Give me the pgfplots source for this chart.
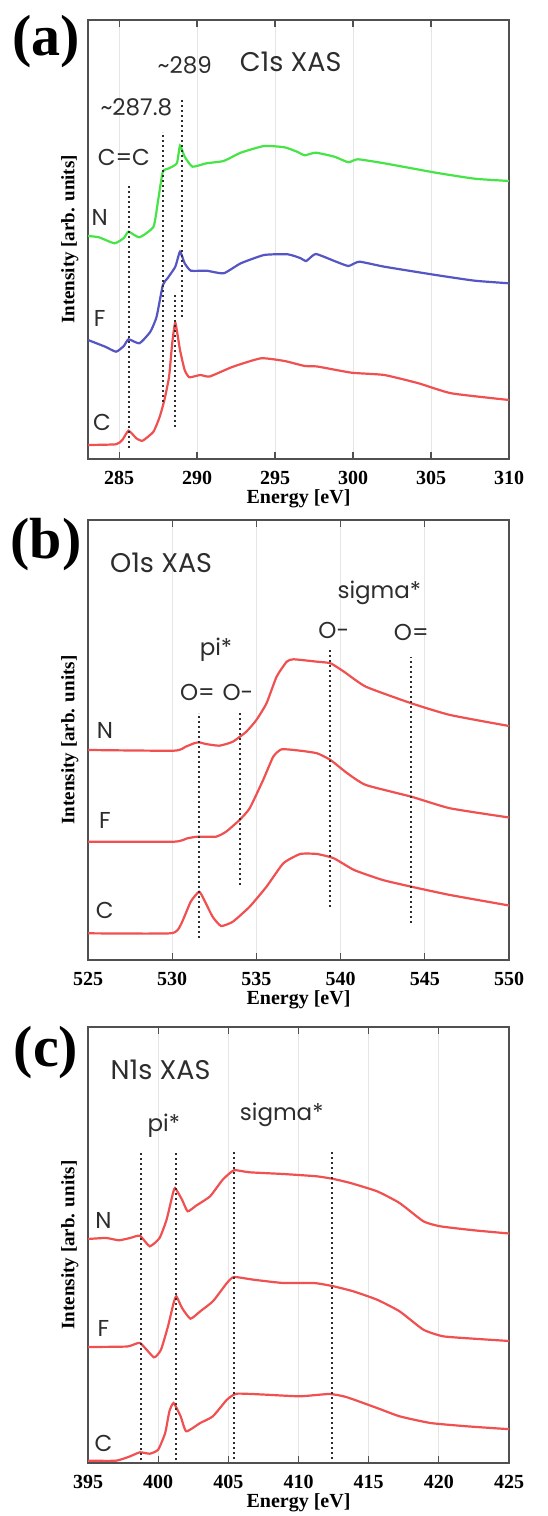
\documentclass[border=0pt]{standalone}
\usepackage{fontspec}
\setmainfont{Liberation Serif}
\newfontfamily\annfont{Poppins}
\usepackage{pgfplots}
\pgfplotsset{compat=1.18}
\definecolor{cgreen}{RGB}{70,228,70}
\definecolor{cblue}{RGB}{85,85,195}
\definecolor{cred}{RGB}{240,80,80}
\definecolor{frame}{RGB}{80,80,80}
\definecolor{anncol}{RGB}{45,45,45}
\tikzset{
  ann/.style={font=\annfont\fontsize{23}{23}\selectfont, text=anncol, anchor=center, inner sep=0pt},
  ttl/.style={font=\annfont\fontsize{27}{27}\selectfont, text=anncol, anchor=center, inner sep=0pt},
  dots/.style={anncol, line width=2pt, dash pattern=on 1.8pt off 3.2pt},
}
\pgfplotsset{
  panel/.style={
    scale only axis,
    width=421pt,
    anchor=south west,
    axis line style={frame, line width=1.6pt},
    ytick=\empty,
    tick align=inside,
    xtick pos=both,
    major tick length=7pt,
    tick style={frame, line width=1.3pt},
    xmajorgrids,
    grid style={black!10, line width=0.9pt},
    /pgf/number format/assume math mode=true,
    xticklabel style={font=\fontsize{20}{20}\selectfont\bfseries, anchor=center, yshift=-19pt},
    xlabel={Energy [eV]},
    xlabel style={font=\fontsize{20}{20}\selectfont\bfseries, at={(rel axis cs:0.5,0)}, anchor=center, yshift=-40pt},
    ylabel={Intensity [arb. units]},
    ylabel style={font=\fontsize{19}{19}\selectfont\bfseries, at={(axis description cs:-0.043,0.5)}, anchor=center},
    clip=true,
  },
  spec/.style={line width=2.2pt, smooth, tension=0.3},
}
\begin{document}
\begin{tikzpicture}
\useasboundingbox (0,0) rectangle (547pt,1516pt);
% ---------- (a) ----------
\begin{axis}[panel, at={(88pt,1057pt)}, height=439pt,
  xmin=283, xmax=310, ymin=0, ymax=439, xtick={285,290,...,310}]
\addplot[cgreen, spec] coordinates {(283,223) (283.7,221.7) (284.7,215.7) (285.3,221) (285.6,227.3) (286.3,221.7) (287.2,232.3) (287.5,259) (287.8,287.3) (288.2,290.7) (288.7,295.7) (288.9,313.3) (289.2,302.3) (289.7,292.3) (290.6,295.7) (291.7,298) (292.8,306.3) (294.3,313) (295.6,311.7) (296.4,307.3) (296.9,303.7) (297.6,306.3) (298.8,302.3) (299.7,296.7) (300.3,299.7) (302.0,295.7) (305.3,286.3) (307.8,280.3) (310,278)};
\addplot[cblue, spec] coordinates {(283,119) (284.1,112.3) (284.8,107.3) (285.3,113) (285.6,119.7) (286.3,115.7) (287.0,127.3) (287.4,142.3) (287.8,174) (288.1,180.7) (288.6,192.3) (288.9,207.3) (289.2,195.7) (289.6,188.3) (290.6,188.3) (291.7,185.7) (292.8,195.7) (294.3,204) (295.8,204.7) (296.6,201) (297.0,198) (297.6,205) (298.8,198) (299.7,193) (300.4,197.3) (302.0,192.3) (305.3,184) (307.8,178.3) (310,175.7)};
\addplot[cred, spec] coordinates {(283,14) (284.8,14.7) (285.2,19) (285.6,28.3) (286.1,20.7) (286.5,18.3) (287.2,27.3) (287.6,42.3) (287.9,59) (288.2,82.3) (288.4,115.7) (288.6,136.3) (288.9,109) (289.2,89) (289.5,81.7) (290.2,84) (290.8,82.5) (292.3,92.3) (294.1,100.7) (295.6,98) (296.9,93) (297.7,92.5) (299.9,86.3) (302.0,84) (304.2,75.7) (306.3,65.7) (310,59)};
\addplot[dots] coordinates {(285.6,11) (285.6,274)};
\addplot[dots] coordinates {(287.8,57) (287.8,327)};
\addplot[dots] coordinates {(289.0,142) (289.0,359)};
\addplot[dots] coordinates {(288.6,32) (288.6,166)};
\node[ttl] at (axis cs:296.0,397) {C1s XAS};
\node[ann] at (axis cs:289.2,394) {\char"007E 289};
\node[ann] at (axis cs:286.1,352) {\char"007E 287.8};
\node[ann] at (axis cs:285.3,302) {C=C};
\node[ann] at (axis cs:283.75,242) {N};
\node[ann] at (axis cs:283.75,141) {F};
\node[ann] at (axis cs:283.9,37) {C};
\end{axis}
% ---------- (b) ----------
\begin{axis}[panel, at={(88pt,556pt)}, height=440pt,
  xmin=525, xmax=550, ymin=0, ymax=440, xtick={525,530,...,550}]
\addplot[cred, spec] coordinates {(525,210) (530.1,209.3) (530.8,213.3) (531.3,216.7) (531.6,217.7) (532.0,216) (532.8,214.3) (533.6,218.3) (534.4,228.3) (535.0,240) (535.6,256.7) (536.2,283.3) (536.8,298.3) (537.2,300.7) (538.6,298.3) (539.4,296.7) (540.2,288.3) (541.5,273.3) (544.2,256.7) (546.5,245) (550,234)};
\addplot[cred, spec] coordinates {(525,118.3) (530.1,118.3) (530.9,121.7) (531.5,123.3) (532.6,123.3) (533.2,128.3) (534.0,140) (534.6,151.7) (535.4,180) (536.0,203.3) (536.5,210.7) (537.6,209.3) (538.6,206.7) (539.4,200) (540.4,186.7) (541.5,175) (544.2,163.3) (546.5,151.7) (550,142.5)};
\addplot[cred, spec] coordinates {(525,26.7) (529.9,26.7) (530.5,35) (531.1,58.3) (531.6,68.3) (531.9,60) (532.4,43.3) (532.9,34) (533.6,38.3) (534.6,53.3) (535.6,73.3) (536.6,96.7) (537.6,106) (538.6,106) (539.6,101.7) (540.8,90) (542.5,80) (544.2,73.3) (546.5,65) (550,54.5)};
\addplot[dots] coordinates {(531.6,22) (531.6,247)};
\addplot[dots] coordinates {(534.0,75) (534.0,248)};
\addplot[dots] coordinates {(539.4,53) (539.4,310)};
\addplot[dots] coordinates {(544.2,37) (544.2,303)};
\node[ttl, anchor=west] at (axis cs:526.3,397) {O1s XAS};
\node[ann] at (axis cs:542.3,367) {sigma*};
\node[ann] at (axis cs:539.6,330) {O-};
\node[ann] at (axis cs:544.2,328) {O=};
\node[ann] at (axis cs:532.6,310) {pi*};
\node[ann] at (axis cs:531.5,268) {O=};
\node[ann] at (axis cs:533.9,268) {O-};
\node[ann] at (axis cs:526.0,230) {N};
\node[ann] at (axis cs:526.0,140) {F};
\node[ann] at (axis cs:526.0,50) {C};
\end{axis}
% ---------- (c) ----------
\begin{axis}[panel, at={(88pt,53pt)}, height=436pt,
  xmin=395, xmax=425, ymin=0, ymax=436, xtick={395,400,...,425}]
\addplot[cred, spec] coordinates {(395,224) (396.3,225) (397.2,222.7) (398.0,225) (398.7,227.3) (399.4,216.7) (400.1,225) (400.6,243.3) (401.0,266.7) (401.2,275) (401.7,263.3) (402.1,251.7) (402.7,257.3) (403.7,266.7) (404.6,283.3) (405.4,292.7) (406.5,290.7) (408.9,289) (411.3,286.7) (412.5,284) (413.7,280) (415.6,271.7) (417.2,260) (418.9,241.7) (420.1,236.7) (422.5,232.7) (425,229.5)};
\addplot[cred, spec] coordinates {(395,116) (397.8,116.5) (398.7,120) (399.7,105.7) (400.2,113.3) (400.7,136.7) (401.1,160) (401.3,166.7) (401.7,155) (402.3,144.3) (403.0,151.7) (403.9,161.7) (404.9,180) (405.4,186) (406.8,183.3) (408.9,180) (411.1,180) (412.5,176.7) (413.9,171.7) (415.6,163.3) (417.2,151.7) (418.9,133.3) (420.3,126.7) (422.5,124.3) (425,122)};
\addplot[cred, spec] coordinates {(395,2.3) (397.0,2.3) (398.0,6.7) (398.7,10.7) (399.4,9.3) (400.0,13.3) (400.5,30) (400.8,51.7) (401.1,60) (401.6,46.7) (402.0,31.7) (403.0,40) (403.9,46.7) (404.9,63.3) (405.6,69.3) (407.7,68.3) (410.1,66.7) (412.2,69) (413.4,66) (415.6,55) (417.2,46.7) (419.4,40) (422.0,36.7) (425,33.8)};
\addplot[dots] coordinates {(398.75,3) (398.75,312)};
\addplot[dots] coordinates {(401.25,3) (401.25,312)};
\addplot[dots] coordinates {(405.4,4) (405.4,312)};
\addplot[dots] coordinates {(412.4,4) (412.4,312)};
\node[ttl, anchor=west] at (axis cs:396.6,393) {N1s XAS};
\node[ann] at (axis cs:400.4,337) {pi*};
\node[ann] at (axis cs:408.8,348) {sigma*};
\node[ann] at (axis cs:396.1,243) {N};
\node[ann] at (axis cs:396.1,135) {F};
\node[ann] at (axis cs:396.1,20) {C};
\end{axis}
% panel letters
\node[font=\fontsize{58}{58}\selectfont\bfseries, inner sep=0pt] at (46pt,1474pt) {(a)};
\node[font=\fontsize{58}{58}\selectfont\bfseries, inner sep=0pt] at (46pt,971pt) {(b)};
\node[font=\fontsize{58}{58}\selectfont\bfseries, inner sep=0pt] at (46pt,463pt) {(c)};
\end{tikzpicture}
\end{document}
